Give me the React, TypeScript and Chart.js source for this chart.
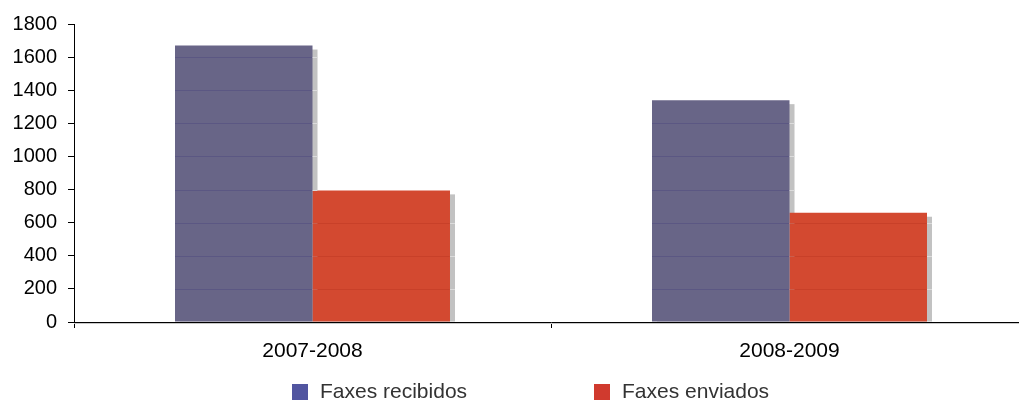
import React, { useEffect, useRef } from "react";
import { Chart, registerables } from "chart.js";

Chart.register(...registerables);

const categories = ["2007-2008", "2008-2009"];
const seriesNames = ["Faxes recibidos", "Faxes enviados"];
const recibidos = [1670, 1340];
const enviados = [795, 660];
const yTicks = [0, 200, 400, 600, 800, 1000, 1200, 1400, 1600, 1800];

const barColors = ["#686587", "#D34930"];
const gridOnBar = ["rgba(88,84,130,0.8)", "rgba(198,62,40,0.8)"];
const legendColors = ["#5155A0", "#D03A2E"];

const FONT = "'Liberation Sans', Arial, Helvetica, sans-serif";

const shadowPlugin = {
  id: "barShadow",
  beforeDatasetsDraw(chart: any) {
    const ctx = chart.ctx;
    ctx.save();
    ctx.fillStyle = "#c2c2c2";
    chart.data.datasets.forEach((_: any, di: number) => {
      const meta = chart.getDatasetMeta(di);
      meta.data.forEach((bar: any) => {
        const p = bar.getProps(["x", "y", "base", "width"], true);
        const left = p.x - p.width / 2 + 5;
        const top = p.y + 4;
        ctx.fillRect(left, top, p.width, p.base - top);
      });
    });
    ctx.restore();
  },
  afterDatasetsDraw(chart: any) {
    const ctx = chart.ctx;
    const yScale = chart.scales.y;
    ctx.save();
    ctx.lineWidth = 1;
    chart.data.datasets.forEach((ds: any, di: number) => {
      const meta = chart.getDatasetMeta(di);
      meta.data.forEach((bar: any, i: number) => {
        const p = bar.getProps(["x", "y", "base", "width"], true);
        const left = p.x - p.width / 2;
        const right = p.x + p.width / 2;
        yTicks.forEach((v) => {
          if (v <= 0 || v >= ds.data[i]) return;
          const y = Math.round(yScale.getPixelForValue(v)) + 0.5;
          ctx.strokeStyle = gridOnBar[di];
          ctx.beginPath();
          ctx.moveTo(left, y);
          ctx.lineTo(right, y);
          ctx.stroke();
          ctx.strokeStyle = "#dcdcdc";
          ctx.beginPath();
          ctx.moveTo(right, y);
          ctx.lineTo(right + 5, y);
          ctx.stroke();
        });
      });
    });
    ctx.restore();
  },
  afterDraw(chart: any) {
    const ctx = chart.ctx;
    const area = chart.chartArea;
    ctx.save();
    ctx.strokeStyle = "#c8c8c8";
    ctx.lineWidth = 1;
    ctx.beginPath();
    ctx.moveTo(area.left, Math.round(area.bottom) + 1.5);
    ctx.lineTo(area.right, Math.round(area.bottom) + 1.5);
    ctx.stroke();
    const starts = [292, 594];
    const boxY = 384;
    ctx.font = `21px ${FONT}`;
    ctx.textBaseline = "middle";
    ctx.textAlign = "left";
    seriesNames.forEach((name, i) => {
      ctx.fillStyle = legendColors[i];
      ctx.fillRect(starts[i], boxY, 16, 16);
      ctx.fillStyle = "#333333";
      ctx.fillText(name, starts[i] + 28, boxY + 8);
    });
    ctx.restore();
  },
};

export default function App() {
  const ref = useRef<HTMLCanvasElement>(null);
  useEffect(() => {
    if (!ref.current) return;
    const chart = new Chart(ref.current, {
      type: "bar",
      data: {
        labels: categories,
        datasets: [
          {
            label: seriesNames[0],
            data: recibidos,
            backgroundColor: barColors[0],
            categoryPercentage: 0.5765,
            barPercentage: 1,
          },
          {
            label: seriesNames[1],
            data: enviados,
            backgroundColor: barColors[1],
            categoryPercentage: 0.5765,
            barPercentage: 1,
          },
        ],
      },
      options: {
        responsive: false,
        animation: false,
        layout: { padding: { top: 24, right: 2, left: 0, bottom: 0 } },
        plugins: { legend: { display: false }, tooltip: { enabled: false } },
        scales: {
          x: {
            offset: true,
            grid: {
              offset: true,
              drawOnChartArea: false,
              drawTicks: true,
              tickLength: 6,
              color: "#000000",
            },
            border: { color: "#000000", width: 1 },
            ticks: {
              color: "#000000",
              font: { family: FONT, size: 21 },
              padding: 11,
            },
            afterFit(scale: any) {
              scale.height = 83;
            },
          },
          y: {
            min: 0,
            max: 1800,
            afterBuildTicks(scale: any) {
              scale.ticks = yTicks.map((v) => ({ value: v }));
            },
            grid: {
              drawOnChartArea: false,
              drawTicks: true,
              tickLength: 6,
              color: "#000000",
            },
            border: { color: "#000000", width: 1 },
            ticks: {
              color: "#000000",
              font: { family: FONT, size: 20 },
              padding: 11,
              callback: (v: any) => String(v),
            },
            afterFit(scale: any) {
              scale.width = 74;
            },
          },
        },
      },
      plugins: [shadowPlugin],
    });
    return () => chart.destroy();
  }, []);
  return (
    <div style={{ position: "fixed", left: 0, top: 0, width: 1030, height: 405, background: "#ffffff" }}>
      <canvas ref={ref} width={1030} height={405} style={{ display: "block" }} />
    </div>
  );
}
